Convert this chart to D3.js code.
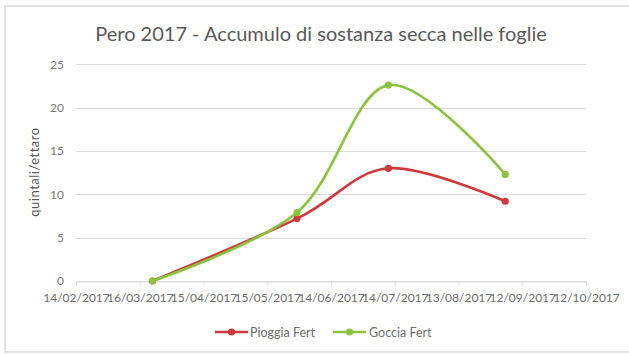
<!DOCTYPE html>
<html>
<head>
<meta charset="utf-8">
<script src="https://cdn.jsdelivr.net/npm/d3@7"></script>
<style>
  html, body { margin: 0; padding: 0; background: #ffffff; }
  svg { display: block; }
  text { font-family: Lato, "Liberation Sans", sans-serif; }
</style>
</head>
<body>
<svg id="chart" width="629" height="354"></svg>
<script>
const title = "Pero 2017 - Accumulo di sostanza secca nelle foglie";
const yAxisTitle = "quintali/ettaro";
const dates = ["22/03/2017", "29/05/2017", "11/07/2017", "04/09/2017"];
const pioggiaFert = [0, 7.2, 13.0, 9.2];
const gocciaFert = [0, 7.9, 22.6, 12.3];
const seriesNames = ["Pioggia Fert", "Goccia Fert"];
const seriesColors = ["#cd3a3d", "#8cc23f"];
const xTickLabels = ["14/02/2017", "16/03/2017", "15/04/2017", "15/05/2017", "14/06/2017", "14/07/2017", "13/08/2017", "12/09/2017", "12/10/2017"];
const yTicks = [0, 5, 10, 15, 20, 25];

const parse = d3.timeParse("%d/%m/%Y");
const fmt = d3.timeFormat("%d/%m/%Y");
const xTickDates = xTickLabels.map(parse);

const svg = d3.select("#chart");

// outer frame
svg.append("rect")
  .attr("x", 5).attr("y", 6).attr("width", 630).attr("height", 346)
  .attr("fill", "#ffffff").attr("stroke", "#e2e2e2").attr("stroke-width", 2);

const x = d3.scaleTime()
  .domain([xTickDates[0], xTickDates[xTickDates.length - 1]])
  .range([76, 586]);
const y = d3.scaleLinear().domain([0, 25]).range([281, 64.3]);

// gridlines
svg.append("g")
  .selectAll("line")
  .data(yTicks)
  .join("line")
  .attr("x1", 76).attr("x2", 586)
  .attr("y1", d => Math.round(y(d)) + 0.5).attr("y2", d => Math.round(y(d)) + 0.5)
  .attr("stroke", "#dcdcdc").attr("stroke-width", 1);

// y axis labels
const yAxis = d3.axisLeft(y).tickValues(yTicks).tickSize(0).tickPadding(0);
const gy = svg.append("g").attr("transform", "translate(64,0)").call(yAxis);
gy.select(".domain").remove();
gy.selectAll("text")
  .attr("fill", "#7a7a7a").style("font-size", "12px")
  .style("font-family", "Lato, sans-serif");

// x axis
const xAxis = d3.axisBottom(x).tickValues(xTickDates).tickFormat(fmt).tickSize(4).tickPadding(8);
const gx = svg.append("g").attr("transform", "translate(0,281.5)").call(xAxis);
gx.select(".domain").attr("stroke", "#dcdcdc");
gx.selectAll(".tick line").attr("stroke", "#dcdcdc");
gx.selectAll("text")
  .attr("fill", "#6e6e6e").style("font-size", "12px")
  .style("font-family", "Lato, sans-serif");

// axis title
svg.append("text")
  .attr("transform", "translate(39,172) rotate(-90)")
  .attr("text-anchor", "middle")
  .attr("fill", "#595959")
  .style("font-size", "13px")
  .style("letter-spacing", "0.5px")
  .text(yAxisTitle);

// title
svg.append("text")
  .attr("x", 321).attr("y", 41)
  .attr("text-anchor", "middle")
  .attr("fill", "#595959")
  .style("font-size", "20px")
  .text(title);

// series
const series = [pioggiaFert, gocciaFert].map((vals, i) => ({
  name: seriesNames[i], color: seriesColors[i],
  points: vals.map((v, j) => ({ date: parse(dates[j]), value: v }))
}));

const line = d3.line()
  .x(d => x(d.date)).y(d => y(d.value))
  .curve(d3.curveCardinal.tension(0));

const gs = svg.append("g").selectAll("g").data(series).join("g");
gs.append("path")
  .attr("d", d => line(d.points))
  .attr("fill", "none")
  .attr("stroke", d => d.color)
  .attr("stroke-width", 2.6)
  .attr("stroke-linecap", "round");
gs.selectAll("circle")
  .data(d => d.points.map(p => ({ ...p, color: d.color })))
  .join("circle")
  .attr("cx", d => x(d.date)).attr("cy", d => y(d.value))
  .attr("r", 3.6)
  .attr("fill", d => d.color);

// legend
const legendPos = [{ lx: 215, tx: 250 }, { lx: 333, tx: 369 }];
const lg = svg.append("g").selectAll("g").data(series).join("g");
lg.append("line")
  .attr("x1", (d, i) => legendPos[i].lx).attr("x2", (d, i) => legendPos[i].lx + 33)
  .attr("y1", 332).attr("y2", 332)
  .attr("stroke", d => d.color).attr("stroke-width", 2.6);
lg.append("circle")
  .attr("cx", (d, i) => legendPos[i].lx + 16.5).attr("cy", 332).attr("r", 3.6)
  .attr("fill", d => d.color);
lg.append("text")
  .attr("x", (d, i) => legendPos[i].tx).attr("y", 336.5)
  .attr("fill", "#6e6e6e")
  .style("font-size", "12.5px")
  .text(d => d.name);
</script>
</body>
</html>
